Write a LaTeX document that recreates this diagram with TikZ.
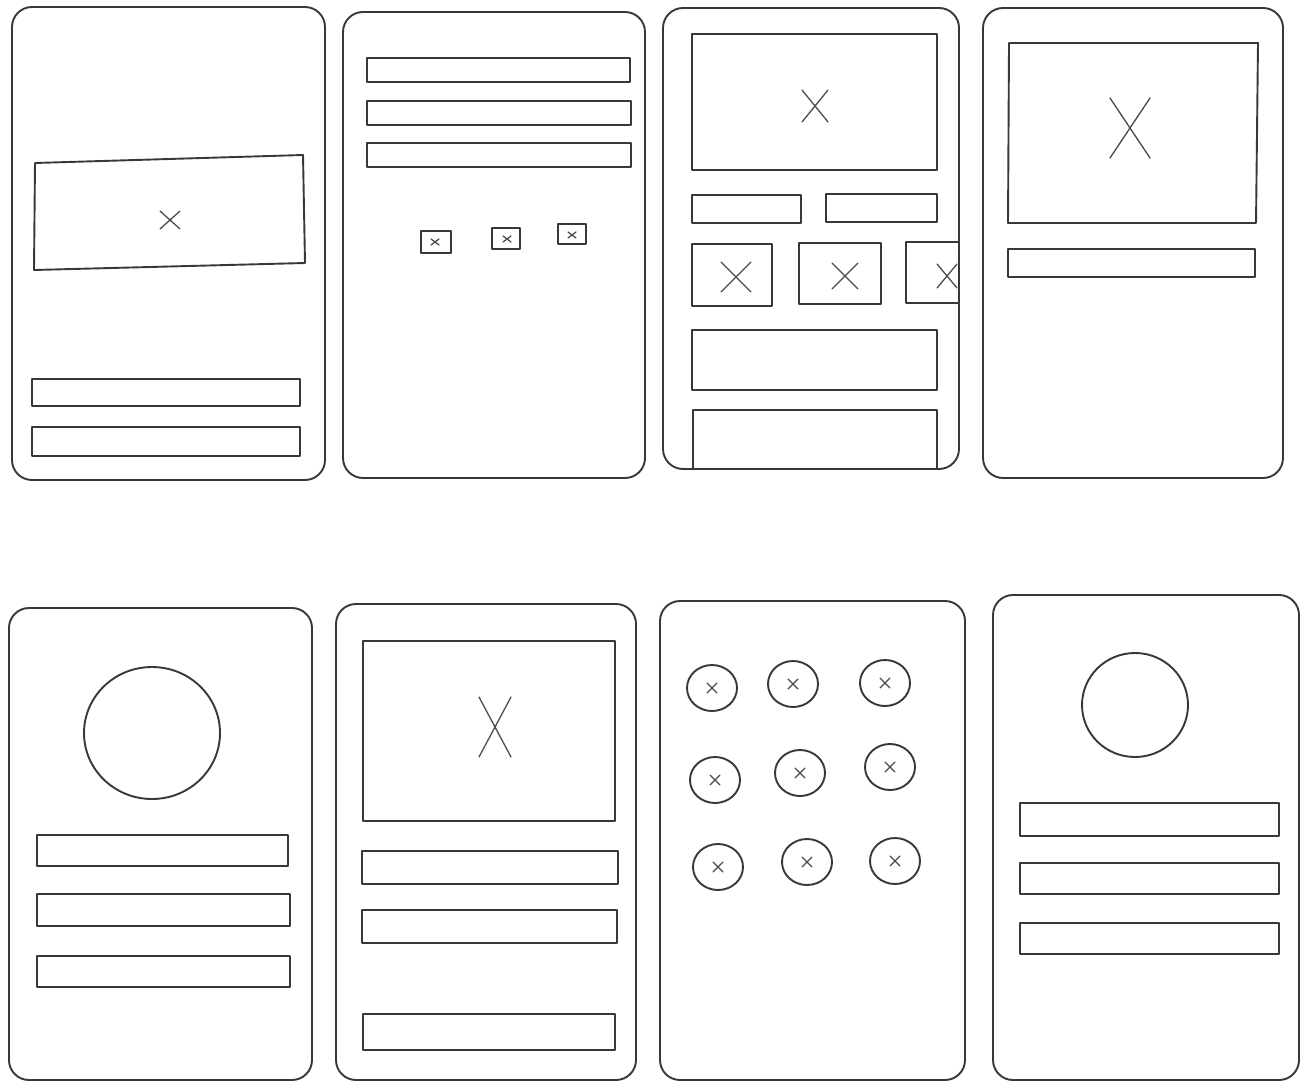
\documentclass[tikz,border=0pt]{standalone}
\begin{document}
\begin{tikzpicture}[x=1pt,y=-1pt,
  ln/.style={draw=black!78,line width=1.9pt,line join=round,line cap=round},
  thin/.style={draw=black!70,line width=1.3pt,line cap=round},
  panel/.style={ln,rounded corners=20pt}]
\useasboundingbox[fill=white] (0,0) rectangle (1300,1083);
\newcommand\crossat[4]{\draw[thin] (#1-#3,#2-#4) -- (#1+#3,#2+#4) (#1-#3,#2+#4) -- (#1+#3,#2-#4);}
% ---------- top row ----------
% panel 1
\draw[panel] (12,7) rectangle (325,480);
\draw[ln] (35,163) -- (303,155) -- (305,263) -- (34,270) -- cycle;
\crossat{170}{220}{10}{9}
\draw[ln] (32,379) rectangle (300,406);
\draw[ln] (32,427) rectangle (300,456);
% panel 2
\draw[panel] (343,12) rectangle (645,478);
\draw[ln] (367,58) rectangle (630,82);
\draw[ln] (367,101) rectangle (631,125);
\draw[ln] (367,143) rectangle (631,167);
\draw[ln] (421,231) rectangle (451,253);
\crossat{435}{242}{4}{3}
\draw[ln] (492,228) rectangle (520,249);
\crossat{507}{239}{4}{3}
\draw[ln] (558,224) rectangle (586,244);
\crossat{572}{235}{4}{3}
% panel 3
\draw[panel] (663,8) rectangle (959,469);
\draw[ln] (692,34) rectangle (937,170);
\crossat{815}{106}{13}{16}
\draw[ln] (692,195) rectangle (801,223);
\draw[ln] (826,194) rectangle (937,222);
\draw[ln] (692,244) rectangle (772,306);
\crossat{736}{277}{15}{15}
\draw[ln] (799,243) rectangle (881,304);
\crossat{845}{276}{13}{13}
\draw[ln] (959,242) -- (906,242) -- (906,303) -- (959,303);
\crossat{947}{276}{10}{12}
\draw[ln] (692,330) rectangle (937,390);
\draw[ln] (693,469) -- (693,410) -- (937,410) -- (937,469);
% panel 4
\draw[panel] (983,8) rectangle (1283,478);
\draw[ln] (1009,43) -- (1258,43) -- (1256,223) -- (1008,223) -- cycle;
\crossat{1130}{128}{20}{30}
\draw[ln] (1008,249) rectangle (1255,277);
% ---------- bottom row ----------
% panel 5
\draw[panel] (9,608) rectangle (312,1080);
\draw[ln] (152,733) ellipse (68 and 66);
\draw[ln] (37,835) rectangle (288,866);
\draw[ln] (37,894) rectangle (290,926);
\draw[ln] (37,956) rectangle (290,987);
% panel 6
\draw[panel] (336,604) rectangle (636,1080);
\draw[ln] (363,641) rectangle (615,821);
\crossat{495}{727}{16}{30}
\draw[ln] (362,851) rectangle (618,884);
\draw[ln] (362,910) rectangle (617,943);
\draw[ln] (363,1014) rectangle (615,1050);
% panel 7
\draw[panel] (660,601) rectangle (965,1080);
\foreach \cx/\cy in {712/688,793/684,885/683,715/780,800/773,890/767,718/867,807/862,895/861}{
  \draw[ln] (\cx,\cy) ellipse (25 and 23);
  \crossat{\cx}{\cy}{5}{5}
}
% panel 8
\draw[panel] (993,595) rectangle (1299,1080);
\draw[ln] (1135,705) ellipse (53 and 52);
\draw[ln] (1020,803) rectangle (1279,836);
\draw[ln] (1020,863) rectangle (1279,894);
\draw[ln] (1020,923) rectangle (1279,954);
\end{tikzpicture}
\end{document}
